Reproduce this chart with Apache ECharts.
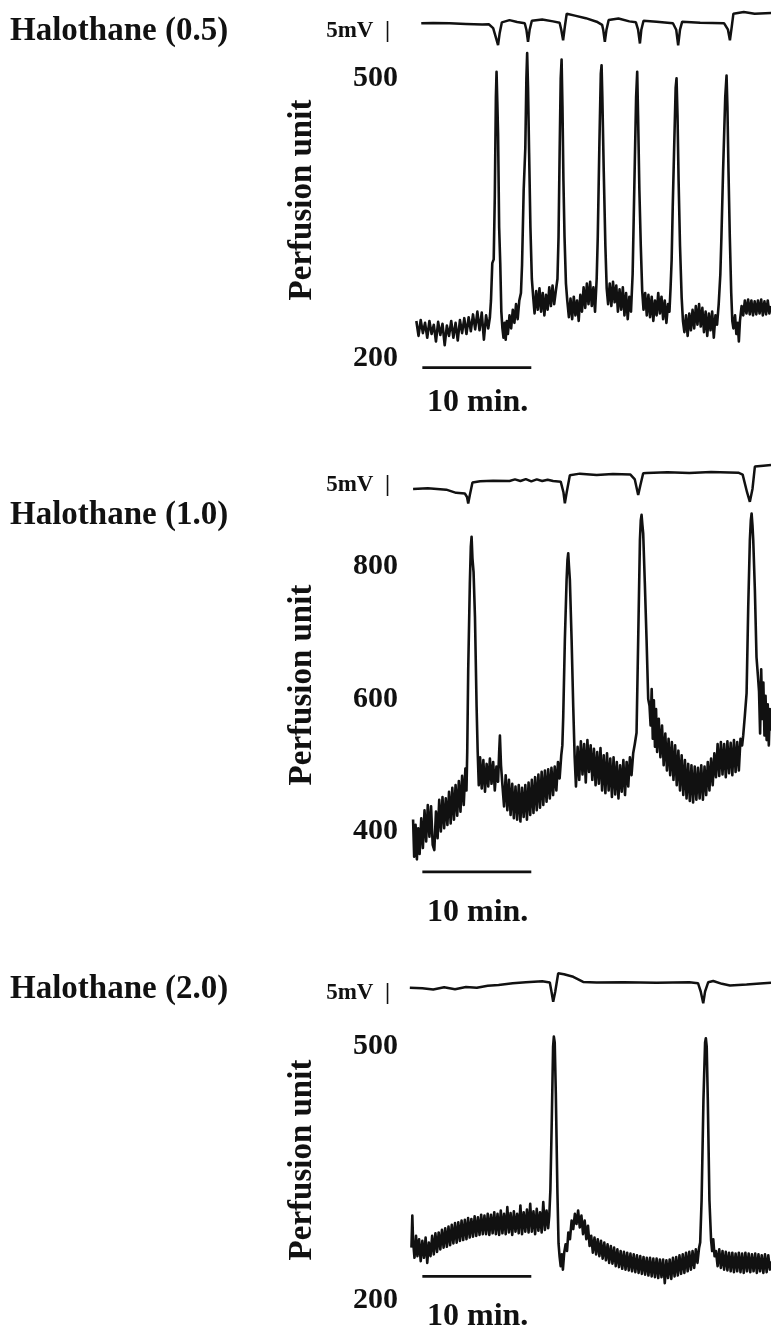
<!DOCTYPE html>
<html>
<head>
<meta charset="utf-8">
<title>Halothane perfusion traces</title>
<script src="https://cdn.jsdelivr.net/npm/echarts@6.0.0/dist/echarts.min.js"></script>
<style>
  html, body { margin: 0; padding: 0; background: #fff; }
  #chart { width: 771px; height: 1328px; }
</style>
</head>
<body>
<div id="chart"></div>
<script>
// panel titles and axis tick labels
const panelTitles = ['Halothane (0.5)', 'Halothane (1.0)', 'Halothane (2.0)'];
const perfTicks = [[200, 500], [400, 600, 800], [200, 500]];

// 10 min scale bar (minutes) and the level it sits at in each panel (perfusion units)
const scaleBarMinutes = [0.5, 10.5];
const scaleBarLevels = [190, 339, 228];

// DC potential traces, [minutes, mV]
const dc05 = [
  [0.4, 0], [1.5, 0.1], [3, 0], [4.5, -0.2], [6, -0.4], [6.6, -0.3], [7.0, -1.5], [7.3, -5], [7.45, -6.8],
  [7.6, -3], [7.8, 0.3], [8.5, 1.0], [9.2, 0.4], [9.9, 0], [10.05, -2], [10.2, -5.8], [10.35, -2], [10.55, 0.8],
  [11.5, 1.2], [12.5, 0.6], [13.1, 0.2], [13.25, -2], [13.42, -5.3], [13.58, -1], [13.75, 3.0], [14.5, 2.4],
  [15.5, 1.6], [16.5, 0.5], [17.0, -0.5], [17.1, -2], [17.25, -5.8], [17.4, -2], [17.6, 1.0], [18.5, 1.5],
  [19.5, 0.6], [20.1, 0.3], [20.3, -2], [20.47, -6.3], [20.6, -2], [20.8, 0.8], [22, 0.5], [23.5, 0],
  [23.8, -2], [23.98, -6.9], [24.15, -2], [24.35, 0.5], [26, 0.2], [28.2, 0], [28.55, -2], [28.73, -5.3],
  [28.9, -1], [29.05, 3.0], [30, 3.5], [31, 3.0], [32.5, 3.2]
];
const dc10 = [
  [-0.35, 0], [1.0, 0.2], [2.7, -0.2], [3.6, -1.2], [4.4, -1.4], [4.6, -2.5], [4.71, -4.5], [4.85, -2],
  [5.1, 2.0], [5.8, 2.4], [7.0, 2.6], [8.5, 2.5], [9.0, 3.0], [9.5, 2.5], [10.0, 3.1], [10.5, 2.4], [11.0, 3.0],
  [11.5, 2.5], [12.0, 2.9], [12.5, 2.5], [13.2, 2.3], [13.45, -1], [13.58, -4.5], [13.75, -1], [14.04, 4.3],
  [14.96, 4.8], [16.5, 4.4], [18, 4.7], [19.6, 4.5], [20.0, 3], [20.31, -1.9], [20.5, 1], [20.77, 4.9],
  [21.08, 5.0], [23, 5.2], [25, 5.0], [27, 5.3], [29.5, 5.1], [29.9, 4.5], [30.3, -1], [30.56, -4],
  [30.8, 0], [31.02, 7], [31.8, 7.3], [32.5, 7.5]
];
const dc20 = [
  [-0.65, 0.2], [0.5, 0], [1.5, -0.4], [2.5, 0.3], [3.5, -0.3], [4.5, 0.4], [5.5, 0.2], [6.5, 0.8],
  [7.5, 1.0], [8.8, 1.6], [10, 1.9], [11.5, 2.2], [12.2, 1.8], [12.35, -1], [12.51, -4.2], [12.7, -1],
  [12.97, 4.7], [13.5, 4.4], [14.35, 3.6], [15.26, 2.0], [16.5, 1.8], [19, 1.9], [22, 1.7], [25, 1.9],
  [25.8, 1.6], [26.05, -1], [26.28, -4.7], [26.45, -1], [26.74, 1.9], [27.2, 2.3], [28.0, 1.4],
  [28.73, 0.9], [30.26, 1.2], [31.5, 1.5], [32.5, 1.7]
];

// perfusion traces, [minutes, perfusion unit]
const perf05 = [
  [-0.05, 240], [0.15, 224], [0.35, 241], [0.55, 227], [0.75, 238], [0.95, 222], [1.15, 240], [1.35, 226],
  [1.55, 236], [1.75, 218], [1.95, 239], [2.15, 225], [2.35, 237], [2.55, 214], [2.75, 235], [2.95, 224],
  [3.15, 240], [3.35, 222], [3.55, 238], [3.75, 219], [3.95, 241], [4.15, 227], [4.35, 243], [4.55, 226],
  [4.75, 244], [4.95, 229], [5.15, 247], [5.35, 231], [5.55, 250], [5.75, 230], [5.95, 249], [6.15, 220],
  [6.35, 246], [6.55, 232], [6.7, 244],
  [6.8, 262], [6.92, 302], [7.05, 306], [7.15, 373], [7.25, 480], [7.31, 507], [7.38, 475], [7.45, 441],
  [7.55, 340], [7.65, 302], [7.75, 250],
  [7.85, 232], [7.95, 222], [8.05, 238], [8.15, 220], [8.25, 240], [8.35, 226], [8.5, 246], [8.65, 232],
  [8.8, 252], [8.95, 238], [9.1, 258], [9.25, 242], [9.4, 262],
  [9.55, 270], [9.65, 300], [9.8, 380], [9.95, 425], [10.05, 500], [10.12, 527], [10.2, 490], [10.3, 420],
  [10.42, 340], [10.55, 285], [10.68, 265],
  [10.8, 248], [10.95, 272], [11.1, 252], [11.25, 275], [11.4, 250], [11.55, 270], [11.7, 246], [11.85, 268],
  [12.0, 252], [12.15, 276], [12.3, 256], [12.45, 278], [12.6, 258], [12.75, 272],
  [12.9, 285], [13.0, 330], [13.1, 420], [13.2, 500], [13.28, 520], [13.36, 470], [13.45, 390], [13.55, 330],
  [13.68, 280], [13.8, 262],
  [13.95, 244], [14.1, 264], [14.25, 242], [14.4, 266], [14.55, 246], [14.7, 262], [14.85, 240], [15.0, 268],
  [15.15, 250], [15.3, 276], [15.45, 254], [15.6, 280], [15.75, 258], [15.9, 282], [16.05, 256], [16.2, 276],
  [16.35, 250],
  [16.5, 285], [16.6, 330], [16.75, 430], [16.88, 505], [16.95, 514], [17.02, 480], [17.15, 400], [17.3, 320],
  [17.42, 275],
  [17.55, 258], [17.7, 280], [17.85, 256], [18.0, 282], [18.15, 260], [18.3, 278], [18.45, 250], [18.6, 274],
  [18.75, 252], [18.9, 276], [19.05, 246], [19.2, 270], [19.35, 242], [19.5, 266], [19.65, 250],
  [19.8, 290], [19.9, 350], [20.0, 410], [20.12, 480], [20.22, 507], [20.3, 460], [20.42, 380], [20.55, 320],
  [20.68, 272],
  [20.8, 252], [20.95, 270], [21.1, 246], [21.25, 268], [21.4, 244], [21.55, 266], [21.7, 240], [21.85, 262],
  [22.0, 246], [22.15, 270], [22.3, 248], [22.45, 266], [22.6, 242], [22.75, 262], [22.9, 238], [23.05, 258],
  [23.18, 250],
  [23.28, 275], [23.38, 305], [23.48, 362], [23.6, 420], [23.75, 490], [23.83, 500], [23.92, 460], [24.02, 390],
  [24.15, 320], [24.3, 265], [24.42, 240],
  [24.55, 228], [24.7, 246], [24.85, 224], [25.0, 248], [25.15, 230], [25.3, 252], [25.45, 232], [25.6, 256],
  [25.75, 236], [25.9, 258], [26.05, 234], [26.2, 254], [26.35, 228], [26.5, 250], [26.65, 224], [26.8, 248],
  [26.95, 230], [27.1, 250], [27.25, 222], [27.4, 246], [27.55, 236], [27.7, 258],
  [27.85, 290], [27.95, 330], [28.1, 400], [28.3, 480], [28.42, 503], [28.5, 470], [28.6, 400], [28.72, 330],
  [28.85, 270], [28.95, 240],
  [29.05, 232], [29.2, 246], [29.32, 226], [29.45, 238], [29.55, 218], [29.65, 240], [29.8, 256], [29.95, 246],
  [30.1, 262], [30.25, 248], [30.4, 263], [30.55, 247], [30.7, 262], [30.85, 246], [31.0, 261], [31.15, 247],
  [31.3, 262], [31.45, 248], [31.6, 263], [31.75, 246], [31.9, 261], [32.05, 247], [32.2, 262], [32.35, 248],
  [32.5, 256]
];
const perf10 = [
  [-0.35, 418], [-0.25, 362], [-0.12, 410], [0.0, 358], [0.12, 405], [0.25, 366], [0.4, 420], [0.55, 375],
  [0.7, 432], [0.85, 385], [1.0, 440], [1.15, 392], [1.3, 438], [1.45, 380], [1.6, 372], [1.75, 430],
  [1.9, 390], [2.05, 448], [2.2, 400], [2.35, 452], [2.5, 405], [2.65, 450], [2.8, 410], [2.95, 460],
  [3.1, 412], [3.25, 466], [3.4, 418], [3.55, 470], [3.7, 424], [3.85, 476], [4.0, 430], [4.15, 484],
  [4.3, 440], [4.45, 495], [4.55, 462],
  [4.62, 520], [4.71, 644], [4.86, 775], [4.95, 830], [5.02, 845], [5.1, 812], [5.2, 792], [5.33, 724],
  [5.48, 588], [5.58, 520], [5.68, 470],
  [5.8, 512], [5.95, 465], [6.1, 508], [6.25, 460], [6.4, 502], [6.55, 468], [6.7, 510], [6.85, 472],
  [7.0, 505], [7.15, 462], [7.3, 498], [7.45, 475], [7.55, 520], [7.62, 545], [7.72, 500], [7.85, 470],
  [8.0, 438], [8.15, 485], [8.3, 432], [8.45, 478], [8.6, 425], [8.75, 472], [8.9, 420], [9.05, 468],
  [9.2, 418], [9.35, 470], [9.5, 415], [9.65, 466], [9.8, 422], [9.95, 470], [10.1, 418], [10.25, 474],
  [10.4, 425], [10.55, 478], [10.7, 428], [10.85, 482], [11.0, 432], [11.15, 486], [11.3, 436], [11.45, 490],
  [11.6, 440], [11.75, 492], [11.9, 445], [12.05, 494], [12.2, 450], [12.35, 496], [12.5, 455], [12.65, 498],
  [12.8, 462], [12.95, 505], [13.1, 480], [13.25, 515], [13.35, 530],
  [13.43, 573], [13.58, 689], [13.74, 780], [13.82, 810], [13.89, 820], [13.96, 800], [14.04, 780],
  [14.2, 689], [14.35, 588], [14.48, 512],
  [14.6, 468], [14.75, 528], [14.9, 478], [15.05, 536], [15.2, 486], [15.35, 532], [15.5, 474], [15.65, 538],
  [15.8, 490], [15.95, 530], [16.1, 478], [16.25, 525], [16.4, 470], [16.55, 520], [16.7, 472], [16.85, 526],
  [17.0, 462], [17.15, 515], [17.3, 458], [17.45, 518], [17.6, 462], [17.75, 510], [17.9, 452], [18.05, 512],
  [18.2, 456], [18.35, 505], [18.5, 450], [18.65, 500], [18.8, 460], [18.95, 508], [19.1, 455], [19.25, 505],
  [19.4, 468], [19.55, 512], [19.7, 485], [19.85, 518],
  [20.0, 532], [20.16, 549], [20.31, 689], [20.47, 840], [20.55, 870], [20.62, 878], [20.7, 862], [20.77, 850],
  [20.92, 775], [21.08, 689], [21.23, 600], [21.35, 590],
  [21.45, 560], [21.55, 615], [21.65, 540], [21.75, 598], [21.85, 528], [21.95, 585], [22.05, 520], [22.2, 570],
  [22.35, 512], [22.5, 560], [22.65, 500], [22.8, 548], [22.95, 492], [23.1, 540], [23.25, 485], [23.4, 535],
  [23.55, 478], [23.7, 530], [23.85, 470], [24.0, 522], [24.15, 462], [24.3, 515], [24.45, 455], [24.6, 508],
  [24.75, 450], [24.9, 502], [25.05, 446], [25.2, 500], [25.35, 444], [25.5, 498], [25.65, 448], [25.8, 496],
  [25.95, 450], [26.1, 500], [26.25, 448], [26.4, 498], [26.55, 455], [26.7, 505], [26.85, 462], [27.0, 510],
  [27.15, 470], [27.3, 518], [27.45, 482], [27.6, 532], [27.75, 484], [27.9, 535], [28.05, 486], [28.2, 532],
  [28.35, 482], [28.5, 536], [28.65, 488], [28.8, 534], [28.95, 485], [29.1, 538], [29.25, 490], [29.4, 535],
  [29.55, 492], [29.7, 540], [29.85, 530],
  [29.95, 545], [30.1, 575], [30.26, 609], [30.41, 739], [30.56, 840], [30.65, 870], [30.72, 880],
  [30.8, 862], [30.87, 840], [31.02, 765], [31.17, 663], [31.3, 635],
  [31.4, 612], [31.5, 548], [31.6, 645], [31.7, 570], [31.8, 625], [31.9, 545], [32.0, 605], [32.1, 538],
  [32.2, 592], [32.3, 530], [32.4, 585], [32.5, 552]
];
const perf20 = [
  [-0.5, 262], [-0.42, 300], [-0.35, 270], [-0.22, 250], [-0.08, 276], [0.05, 252], [0.2, 272], [0.35, 246],
  [0.5, 270], [0.65, 250], [0.8, 274], [0.95, 244], [1.1, 268], [1.25, 252], [1.4, 276], [1.55, 254],
  [1.7, 279], [1.85, 257], [2.0, 280], [2.15, 260], [2.3, 283], [2.45, 262], [2.6, 285], [2.75, 263],
  [2.9, 287], [3.05, 265], [3.2, 289], [3.35, 267], [3.5, 291], [3.65, 268], [3.8, 292], [3.95, 270],
  [4.1, 294], [4.25, 271], [4.4, 295], [4.55, 272], [4.7, 297], [4.85, 274], [5.0, 296], [5.15, 275],
  [5.3, 299], [5.45, 276], [5.6, 298], [5.75, 277], [5.9, 301], [6.05, 278], [6.2, 300], [6.35, 278],
  [6.5, 302], [6.65, 277], [6.8, 301], [6.95, 279], [7.1, 304], [7.25, 278], [7.4, 302], [7.55, 277],
  [7.7, 306], [7.85, 279], [8.0, 302], [8.15, 278], [8.3, 310], [8.45, 280], [8.6, 303], [8.75, 277],
  [8.9, 305], [9.05, 281], [9.2, 302], [9.35, 279], [9.5, 312], [9.65, 278], [9.8, 304], [9.95, 281],
  [10.1, 307], [10.25, 280], [10.4, 314], [10.55, 281], [10.7, 305], [10.85, 278], [11.0, 308], [11.15, 282],
  [11.3, 304], [11.45, 280], [11.6, 316], [11.75, 283], [11.9, 306], [12.05, 285], [12.15, 300],
  [12.25, 330], [12.38, 413], [12.5, 500], [12.57, 512], [12.65, 505], [12.75, 445], [12.9, 326], [13.0, 267],
  [13.1, 251], [13.2, 240], [13.3, 254], [13.4, 236],
  [13.52, 256], [13.65, 266], [13.78, 258], [13.9, 280], [14.05, 272], [14.2, 294], [14.35, 284], [14.5, 302],
  [14.65, 290], [14.8, 306], [14.95, 286], [15.1, 300], [15.25, 278], [15.4, 294], [15.55, 272], [15.7, 288],
  [15.85, 264], [16.0, 276], [16.15, 256], [16.3, 274], [16.45, 254], [16.6, 272], [16.75, 252], [16.9, 270],
  [17.05, 249], [17.2, 268], [17.35, 247], [17.5, 266], [17.65, 244], [17.8, 264], [17.95, 243], [18.1, 262],
  [18.25, 240], [18.4, 260], [18.55, 239], [18.7, 258], [18.85, 237], [19.0, 257], [19.15, 236], [19.3, 256],
  [19.45, 235], [19.6, 255], [19.75, 234], [19.9, 254], [20.05, 233], [20.2, 253], [20.35, 232], [20.5, 252],
  [20.65, 231], [20.8, 251], [20.95, 230], [21.1, 250], [21.25, 229], [21.4, 250], [21.55, 228], [21.7, 249],
  [21.85, 227], [22.0, 249], [22.15, 226], [22.3, 248], [22.45, 227], [22.6, 248], [22.75, 220], [22.9, 247],
  [23.05, 226], [23.2, 248], [23.35, 225], [23.5, 250], [23.65, 228], [23.8, 251], [23.95, 229], [24.1, 253],
  [24.25, 231], [24.4, 254], [24.55, 232], [24.7, 256], [24.85, 234], [25.0, 257], [25.15, 236], [25.3, 258],
  [25.45, 238], [25.6, 260], [25.75, 244], [25.9, 262], [26.0, 268],
  [26.13, 318], [26.3, 437], [26.45, 505], [26.52, 510], [26.6, 500], [26.7, 437], [26.85, 318], [27.0, 271],
  [27.1, 258], [27.2, 272], [27.32, 252],
  [27.45, 258], [27.6, 240], [27.75, 260], [27.9, 238], [28.05, 258], [28.2, 236], [28.35, 257], [28.5, 235],
  [28.65, 256], [28.8, 234], [28.95, 256], [29.1, 233], [29.25, 255], [29.4, 234], [29.55, 256], [29.7, 233],
  [29.85, 255], [30.0, 232], [30.15, 256], [30.3, 234], [30.45, 255], [30.6, 233], [30.75, 254], [30.9, 234],
  [31.05, 255], [31.2, 232], [31.35, 254], [31.5, 234], [31.65, 253], [31.8, 232], [31.95, 254], [32.1, 233],
  [32.25, 253], [32.4, 236], [32.5, 246]
];

const dcTraces = [dc05, dc10, dc20];
const perfTraces = [perf05, perf10, perf20];

// ---- layout (pixels) ----
const SERIF = '"Liberation Serif", "Times New Roman", serif';
const INK = '#111';
const GRID_LEFT = 406;
const X_MIN = -1, X_MAX = 32.5;
const MV_PX = 3.2;

// where two perfusion values sit on the page, and where the axis name is centred
const perfLayout = [
  { a: [500, 78.3], b: [200, 358.3], nameY: 200, min: 180 },
  { a: [800, 566.5], b: [400, 831.5], nameY: 685, min: 320 },
  { a: [500, 1046.7], b: [200, 1300], nameY: 1160, min: 180 }
];
const dcLayout = [
  { y0: 23.3, min: -8, max: 7 },
  { y0: 489, min: -8, max: 9 },
  { y0: 988.3, min: -8, max: 8 }
];
const titleY = [31, 515, 989];
const mvLabelY = [31, 485, 993];
const minLabelY = [403, 913, 1317];

const chart = echarts.init(document.getElementById('chart'));

const grids = [], xAxes = [], yAxes = [], series = [], texts = [];

for (let i = 0; i < 3; i++) {
  // DC potential grid
  const d = dcLayout[i];
  grids.push({
    left: GRID_LEFT, right: 0,
    top: d.y0 - d.max * MV_PX, height: (d.max - d.min) * MV_PX,
    outerBoundsMode: 'none'
  });
  // perfusion grid, sized so that the anchors land on their pixels
  const p = perfLayout[i];
  const k = (p.b[1] - p.a[1]) / (p.a[0] - p.b[0]);
  const vc = p.a[0] - (p.nameY - p.a[1]) / k;
  const max = 2 * vc - p.min;
  grids.push({
    left: GRID_LEFT, right: 0,
    top: p.a[1] - (max - p.a[0]) * k, height: (max - p.min) * k,
    outerBoundsMode: 'none'
  });

  for (let g = 0; g < 2; g++) {
    xAxes.push({ type: 'value', gridIndex: 2 * i + g, min: X_MIN, max: X_MAX, show: false });
  }
  yAxes.push({ type: 'value', gridIndex: 2 * i, min: d.min, max: d.max, show: false });
  yAxes.push({
    type: 'value', gridIndex: 2 * i + 1, min: p.min, max: max,
    name: 'Perfusion unit', nameLocation: 'middle', nameRotate: 90, nameGap: 87,
    nameTextStyle: { fontFamily: SERIF, fontWeight: 'bold', fontSize: 33, color: INK },
    axisLine: { show: false }, axisTick: { show: false }, splitLine: { show: false },
    axisLabel: {
      customValues: perfTicks[i], margin: 8,
      fontFamily: SERIF, fontWeight: 'bold', fontSize: 30, color: INK
    }
  });

  series.push({
    type: 'line', xAxisIndex: 2 * i, yAxisIndex: 2 * i, data: dcTraces[i],
    showSymbol: false, clip: false, lineStyle: { color: INK, width: 2.5 }
  });
  series.push({
    type: 'line', xAxisIndex: 2 * i + 1, yAxisIndex: 2 * i + 1, data: perfTraces[i],
    showSymbol: false, clip: false, lineStyle: { color: INK, width: 2.6, join: 'round' }
  });
  series.push({
    type: 'line', xAxisIndex: 2 * i + 1, yAxisIndex: 2 * i + 1,
    data: scaleBarMinutes.map(t => [t, scaleBarLevels[i]]),
    showSymbol: false, clip: false, lineStyle: { color: INK, width: 2.8 }
  });

  texts.push({
    type: 'text', x: 10, y: titleY[i],
    style: { text: panelTitles[i], font: 'bold 33px ' + SERIF, fill: INK, textAlign: 'left', textVerticalAlign: 'middle' }
  });
  texts.push({
    type: 'text', x: 390, y: mvLabelY[i],
    style: { text: '5mV  |', font: 'bold 23px ' + SERIF, fill: INK, textAlign: 'right', textVerticalAlign: 'middle' }
  });
  texts.push({
    type: 'text', x: 427, y: minLabelY[i],
    style: { text: '10 min.', font: 'bold 32px ' + SERIF, fill: INK, textAlign: 'left', textVerticalAlign: 'middle' }
  });
}

chart.setOption({
  backgroundColor: '#fff',
  animation: false,
  grid: grids,
  xAxis: xAxes,
  yAxis: yAxes,
  series: series,
  graphic: { elements: texts }
});
</script>
</body>
</html>
